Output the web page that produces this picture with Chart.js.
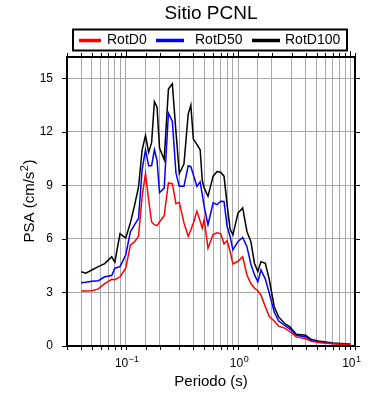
<!DOCTYPE html>
<html>
<head>
<meta charset="utf-8">
<script src="https://cdn.jsdelivr.net/npm/chart.js@4"></script>
<style>
  body { margin: 0; background: #fff; }
  #wrap { width: 390px; height: 400px; }
</style>
</head>
<body>
<div id="wrap"><canvas id="psaChart"></canvas></div>
<script>
var chartTitle = 'Sitio PCNL';
var seriesNames = ['RotD0', 'RotD50', 'RotD100'];
var seriesColors = ['#ff0000', '#0000ff', '#000000'];

var periods = [0.04, 0.044, 0.05, 0.057, 0.065, 0.075, 0.08, 0.089, 0.1, 0.11, 0.12, 0.13,
  0.14, 0.15, 0.16, 0.17, 0.18, 0.19, 0.2, 0.22, 0.24, 0.26, 0.28, 0.3, 0.33, 0.36, 0.38,
  0.4, 0.43, 0.46, 0.48, 0.5, 0.54, 0.6, 0.65, 0.7, 0.75, 0.8, 0.85, 0.9, 1.0, 1.1, 1.2,
  1.3, 1.4, 1.5, 1.6, 1.75, 1.9, 2.1, 2.3, 2.6, 2.9, 3.3, 4, 4.5, 5.4, 7, 9, 10];

var rotD0 = [3.08, 3.08, 3.10, 3.2, 3.5, 3.74, 3.72, 3.88, 4.36, 5.65, 5.85, 6.15,
  8.4, 9.67, 8.2, 6.95, 6.8, 6.75, 6.95, 7.3, 9.14, 9.1, 7.98, 8.05, 6.9, 6.15, 6.5,
  6.9, 7.55, 7.0, 6.6, 7.1, 5.48, 6.25, 6.35, 6.3, 5.73, 5.9, 5.3, 4.6, 4.75, 5.0, 3.98,
  3.5, 3.25, 3.1, 2.85, 2.2, 1.65, 1.4, 1.11, 1.0, 0.8, 0.51, 0.4, 0.27, 0.18, 0.12, 0.08, 0.06];

var rotD50 = [3.55, 3.57, 3.63, 3.66, 3.88, 3.95, 4.36, 4.45, 5.1, 6.4, 6.8, 7.15,
  9.9, 11.0, 10.1, 10.1, 11.0, 10.4, 8.6, 8.85, 13.05, 12.6, 9.7, 8.95, 8.95, 10.1, 10.05,
  9.6, 8.95, 9.2, 8.5, 7.8, 6.8, 8.02, 7.92, 8.11, 8.1, 6.7, 6.14, 5.39, 5.86, 6.08, 5.57,
  4.6, 4.0, 3.6, 4.26, 3.75, 2.95, 1.9, 1.4, 1.15, 0.95, 0.6, 0.51, 0.3, 0.22, 0.14, 0.1, 0.09];

var rotD100 = [4.17, 4.08, 4.26, 4.45, 4.62, 5.0, 4.7, 6.3, 6.05, 6.9, 7.9, 8.9,
  11.0, 11.8, 10.85, 11.4, 13.7, 13.4, 11.1, 10.45, 14.4, 14.7, 12.0, 9.67, 10.2, 13.0, 13.5,
  11.6, 11.3, 11.0, 9.3, 8.86, 8.39, 9.52, 9.78, 9.74, 9.52, 7.9, 6.55, 6.23, 7.45, 7.74, 6.42,
  5.86, 4.64, 4.17, 4.73, 4.64, 3.7, 2.2, 1.63, 1.26, 1.07, 0.66, 0.6, 0.36, 0.26, 0.17, 0.12, 0.1];

var yTicks = [0, 3, 6, 9, 12, 15];
// x tick labels: power of ten -> exponent text
var xExponents = { '0.1': '\u22121', '1': '0', '10': '1' };

var fontFamily = '"Liberation Sans", Arial, Helvetica, sans-serif';

function toPoints(vals) {
  return periods.map(function (p, i) { return { x: p, y: vals[i] }; });
}

// draws base text followed by a raised, smaller exponent, centred on x
function drawPow(ctx, base, sup, x, y, size, tail) {
  var bigF = size + 'px ' + fontFamily;
  var smallF = Math.round(size * 0.72) + 'px ' + fontFamily;
  ctx.font = bigF;
  var wb = ctx.measureText(base).width;
  var wt = tail ? ctx.measureText(tail).width : 0;
  ctx.font = smallF;
  var ws = ctx.measureText(sup).width;
  var x0 = x - (wb + ws + wt) / 2;
  ctx.textAlign = 'left';
  ctx.textBaseline = 'alphabetic';
  ctx.font = bigF;
  ctx.fillText(base, x0, y);
  ctx.font = smallF;
  ctx.fillText(sup, x0 + wb + 0.5, y - size * 0.42);
  if (tail) {
    ctx.font = bigF;
    ctx.fillText(tail, x0 + wb + ws + 1, y);
  }
}

// frame, outward tick marks, title, boxed legend and labels with exponents
var framePlugin = {
  id: 'framePlugin',
  afterDraw: function (chart) {
    var ctx = chart.ctx;
    var a = chart.chartArea;
    var xs = chart.scales.x;
    var ys = chart.scales.y;
    ctx.save();
    ctx.strokeStyle = '#000';
    ctx.lineWidth = 1;
    xs.ticks.forEach(function (t) {
      var px = Math.round(xs.getPixelForValue(t.value)) + 0.5;
      var major = xExponents[String(t.value)] !== undefined;
      ctx.beginPath();
      ctx.moveTo(px, a.bottom);
      ctx.lineTo(px, a.bottom + 4);
      ctx.moveTo(px, a.top);
      ctx.lineTo(px, a.top - (major ? 6 : 4));
      ctx.stroke();
    });
    ys.ticks.forEach(function (t) {
      var py = Math.round(ys.getPixelForValue(t.value)) + 0.5;
      ctx.beginPath();
      ctx.moveTo(a.left, py);
      ctx.lineTo(a.left - 5, py);
      ctx.moveTo(a.right, py);
      ctx.lineTo(a.right + 5, py);
      ctx.stroke();
    });
    ctx.lineWidth = 2;
    ctx.strokeRect(a.left, a.top, a.right - a.left, a.bottom - a.top);

    ctx.fillStyle = '#000';

    // x tick labels 10^n
    xs.ticks.forEach(function (t) {
      var e = xExponents[String(t.value)];
      if (e === undefined) return;
      drawPow(ctx, '10', e, xs.getPixelForValue(t.value) + 1, a.bottom + 21, 12);
    });

    // axis titles
    ctx.font = '15px ' + fontFamily;
    ctx.textAlign = 'center';
    ctx.textBaseline = 'middle';
    ctx.fillText('Periodo (s)', (a.left + a.right) / 2, 382);
    ctx.save();
    ctx.translate(34, (a.top + a.bottom) / 2);
    ctx.rotate(-Math.PI / 2);
    drawPow(ctx, 'PSA (cm/s', '2', 0, 0, 15, ')');
    ctx.restore();

    // title
    ctx.font = '19px ' + fontFamily;
    ctx.textAlign = 'center';
    ctx.textBaseline = 'middle';
    ctx.fillText(chartTitle, (a.left + a.right) / 2, 14);

    // legend
    ctx.lineWidth = 2;
    ctx.strokeRect(73, 29.5, 274, 21);
    var lx = [[79, 101, 107], [156, 184, 195], [252, 280, 285]];
    ctx.font = '14px ' + fontFamily;
    ctx.textAlign = 'left';
    chart.data.datasets.forEach(function (ds, i) {
      ctx.strokeStyle = ds.borderColor;
      ctx.lineWidth = 3.5;
      ctx.beginPath();
      ctx.moveTo(lx[i][0], 40.5);
      ctx.lineTo(lx[i][1], 40.5);
      ctx.stroke();
      ctx.fillText(ds.label, lx[i][2], 40);
    });
    ctx.restore();
  }
};

var psaChart = new Chart(document.getElementById('psaChart').getContext('2d'), {
  type: 'line',
  data: {
    datasets: [
      { label: seriesNames[0], data: toPoints(rotD0), borderColor: seriesColors[0] },
      { label: seriesNames[1], data: toPoints(rotD50), borderColor: seriesColors[1] },
      { label: seriesNames[2], data: toPoints(rotD100), borderColor: seriesColors[2] }
    ].map(function (d) {
      d.borderWidth = 1.5;
      d.pointRadius = 0;
      d.fill = false;
      d.tension = 0;
      return d;
    })
  },
  options: {
    responsive: true,
    maintainAspectRatio: false,
    animation: false,
    layout: { padding: 0 },
    plugins: {
      legend: { display: false },
      title: { display: false },
      tooltip: { enabled: false }
    },
    scales: {
      x: {
        type: 'logarithmic',
        min: 0.03,
        max: 11,
        afterFit: function (s) { s.height = 54; },
        grid: { color: '#a8a8a8', lineWidth: 1, drawTicks: false },
        border: { display: false },
        ticks: {
          autoSkip: false,
          maxRotation: 0,
          display: false
        }
      },
      y: {
        type: 'linear',
        min: 0,
        max: 16.2,
        afterFit: function (s) { s.width = 67; },
        afterBuildTicks: function (s) {
          s.ticks = yTicks.map(function (v) { return { value: v }; });
        },
        grid: { color: '#a8a8a8', lineWidth: 1, drawTicks: false },
        border: { display: false },
        ticks: {
          padding: 14,
          color: '#000',
          font: { family: fontFamily, size: 12 },
          callback: function (v) { return String(v); }
        }
      },
      x2: {
        type: 'logarithmic',
        position: 'top',
        min: 0.03,
        max: 11,
        afterFit: function (s) { s.height = 57; },
        grid: { display: false, drawTicks: false },
        border: { display: false },
        ticks: { display: false }
      },
      y2: {
        type: 'linear',
        position: 'right',
        min: 0,
        max: 16.2,
        afterFit: function (s) { s.width = 35; },
        grid: { display: false, drawTicks: false },
        border: { display: false },
        ticks: { display: false }
      }
    }
  },
  plugins: [framePlugin]
});
</script>
</body>
</html>
